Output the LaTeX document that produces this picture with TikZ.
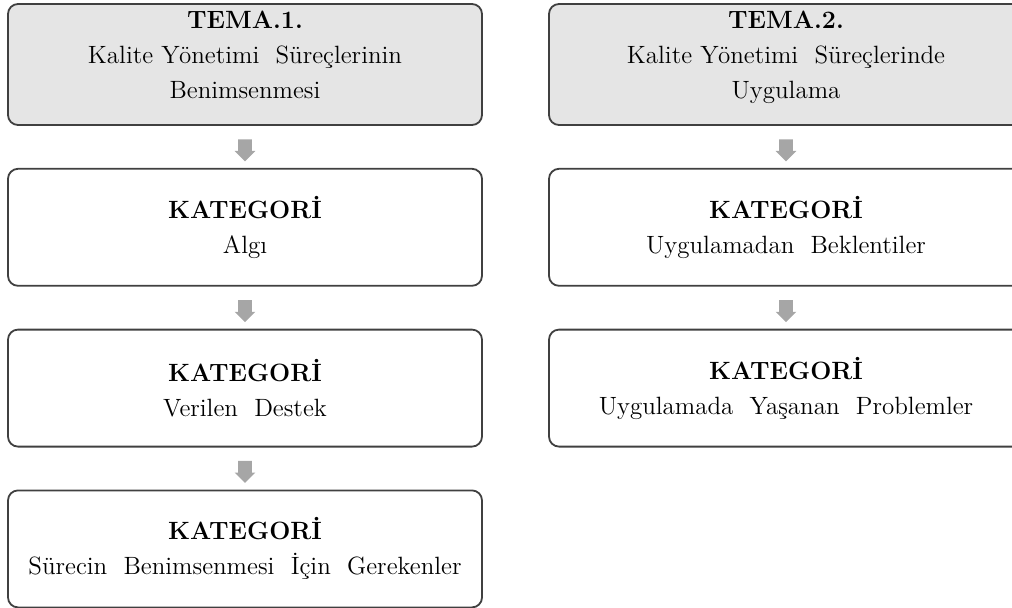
\documentclass[tikz,border=0pt]{standalone}
\usepackage{fontspec}
\usepackage{tikz}
\usetikzlibrary{shapes,shapes.arrows}
\usetikzlibrary{arrows,positioning,calc}
\tikzstyle{tema box}=[draw=black!75, fill=black!10, line width=0.9pt, rounded corners=5pt, minimum width=237pt, minimum height=60.5pt, align=center, font=\fontsize{12.5}{17.5}\selectfont]
\tikzstyle{kat box}=[draw=black!75, fill=white, line width=0.9pt, rounded corners=5pt, minimum width=237pt, minimum height=58.5pt, align=center, font=\fontsize{12.5}{17.5}\selectfont]
\tikzstyle{down arrow}=[single arrow, draw=none, fill=black!35, shape border rotate=270, inner sep=3.25pt, minimum height=11pt, single arrow head extend=1.75pt, single arrow head indent=0pt]

\begin{document}
\begin{tikzpicture}[x=0.5pt, y=-0.5pt, node distance=21pt]
  \useasboundingbox (0,0) rectangle (1012,607);
  \clip (0,0) rectangle (1012,607);
%
  \node[tema box] (t1) at (245,64.5) {\textbf{TEMA.1.}\\Kalite Yönetimi \ Süreçlerinin\\Benimsenmesi\rule[-10pt]{0pt}{0pt}};
  \node[kat box] (k11) [below=of t1] {\textbf{KATEGORİ}\\Algı};
  \node[kat box] (k12) [below=of k11] {\textbf{KATEGORİ}\\Verilen \ Destek};
  \node[kat box] (k13) [below=of k12] {\textbf{KATEGORİ}\\Sürecin \ Benimsenmesi \ İçin \ Gerekenler};
%
  \node[tema box] (t2) at (786,64.5) {\textbf{TEMA.2.}\\Kalite Yönetimi \ Süreçlerinde\\Uygulama\rule[-10pt]{0pt}{0pt}};
  \node[kat box] (k21) [below=of t2] {\textbf{KATEGORİ}\\Uygulamadan \ Beklentiler};
  \node[kat box] (k22) [below=of k21] {\textbf{KATEGORİ}\\Uygulamada \ Yaşanan \ Problemler};
%
  \node[down arrow] (a11) at ($(t1.south)!0.5!(k11.north)$) {};
  \node[down arrow] (a12) at ($(k11.south)!0.5!(k12.north)$) {};
  \node[down arrow] (a13) at ($(k12.south)!0.5!(k13.north)$) {};
  \node[down arrow] (a21) at ($(t2.south)!0.5!(k21.north)$) {};
  \node[down arrow] (a22) at ($(k21.south)!0.5!(k22.north)$) {};
%
\end{tikzpicture}
\end{document}
